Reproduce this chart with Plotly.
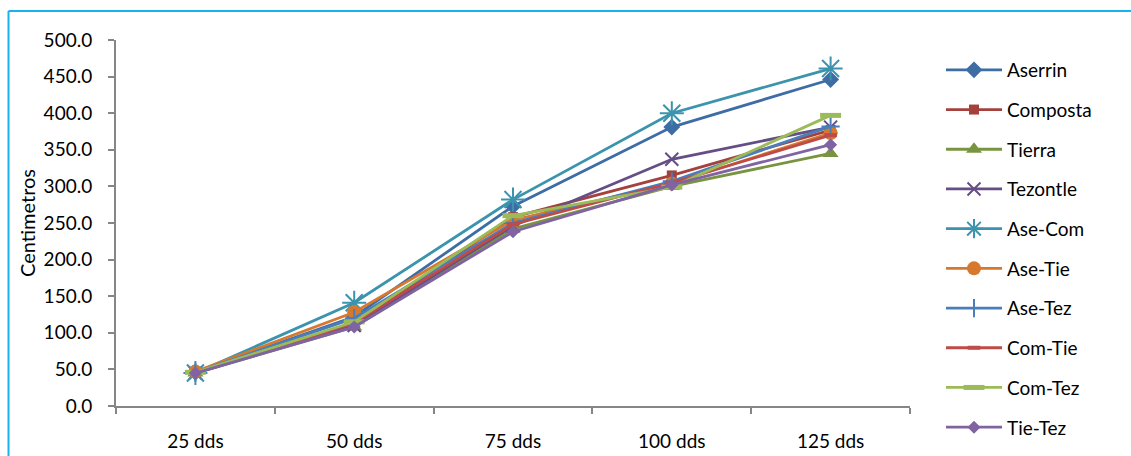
import plotly.graph_objects as go

# Sampling days after sowing
categories = ["25 dds", "50 dds", "75 dds", "100 dds", "125 dds"]

# Plant height (cm) per substrate
aserrin  = [46, 122, 273, 381, 446]
composta = [46, 112, 258, 315, 377]
tierra   = [45, 108, 242, 300, 345]
tezontle = [45, 110, 246, 337, 381]
ase_com  = [45, 141, 282, 400, 461]
ase_tie  = [47, 128, 254, 304, 373]
ase_tez  = [46, 120, 250, 307, 382]
com_tie  = [45, 113, 248, 305, 370]
com_tez  = [46, 115, 260, 299, 397]
tie_tez  = [45, 108, 238, 302, 357]

y_ticks = [0, 50, 100, 150, 200, 250, 300, 350, 400, 450, 500]
y_tick_labels = [f"{v:.1f}" for v in y_ticks]

series = [
    ("Aserrin",  aserrin,  "#3E6DA6", dict(symbol="diamond", size=13)),
    ("Composta", composta, "#A5403C", dict(symbol="square", size=10)),
    ("Tierra",   tierra,   "#789440", dict(symbol="triangle-up", size=14)),
    ("Tezontle", tezontle, "#654E86", dict(symbol="x-thin-open", size=13, line=dict(width=2, color="#654E86"))),
    ("Ase-Com",  ase_com,  "#3B93AD", dict(symbol="asterisk-open", size=20, line=dict(width=2, color="#3B93AD"))),
    ("Ase-Tie",  ase_tie,  "#D7782F", dict(symbol="circle", size=14)),
    ("Ase-Tez",  ase_tez,  "#4A7EBB", dict(symbol="cross-thin-open", size=13, line=dict(width=2, color="#4A7EBB"))),
    ("Com-Tie",  com_tie,  "#BE4B48", dict(symbol="line-ew-open", size=9, line=dict(width=4, color="#BE4B48"))),
    ("Com-Tez",  com_tez,  "#9BBB59", dict(symbol="line-ew-open", size=15, line=dict(width=5, color="#9BBB59"))),
    ("Tie-Tez",  tie_tez,  "#8064A2", dict(symbol="diamond", size=10)),
]

FONT = "Lato, 'Open Sans', sans-serif"
FS = 19
AXIS = "#868686"

fig = go.Figure()
for i, (name, vals, color, marker) in enumerate(series):
    m = dict(color=color)
    m.update(marker)
    fig.add_trace(go.Scatter(
        x=categories, y=vals, name=name, mode="lines+markers",
        line=dict(color=color, width=2.8),
        marker=m, legendgroup=f"g{i}",
    ))

# plot-area geometry (pixels)
W, H = 1131, 456
ML, MR, MT, MB = 116, 221, 40, 50
pw, ph = W - ML - MR, H - MT - MB

def px_x(x):
    return (x - ML) / pw

def px_y(y):
    return (H - MB - y) / ph

# frame around the chart
border = "#1AB2EE"
fig.add_shape(type="line", xref="paper", yref="paper",
              x0=px_x(8.5), x1=px_x(W + 5), y0=px_y(11), y1=px_y(11),
              line=dict(color=border, width=2))
fig.add_shape(type="line", xref="paper", yref="paper",
              x0=px_x(8.5), x1=px_x(8.5), y0=px_y(11), y1=px_y(H + 5),
              line=dict(color=border, width=2))

fig.update_layout(
    width=W, height=H,
    margin=dict(l=ML, r=MR, t=MT, b=MB, autoexpand=False),
    paper_bgcolor="white", plot_bgcolor="white",
    font=dict(family=FONT, size=FS, color="#000000"),
    showlegend=True,
    legend=dict(
        x=px_x(941), y=px_y(51), xanchor="left", yanchor="top",
        font=dict(family=FONT, size=FS),
        tracegroupgap=12, itemwidth=56, maxheight=1000,
        bgcolor="rgba(0,0,0,0)",
    ),
    xaxis=dict(
        type="category", range=[-0.5, 4.5], automargin=False,
        showline=True, linecolor=AXIS, linewidth=2,
        ticks="outside", tickson="boundaries", ticklen=6, tickcolor=AXIS, tickwidth=2,
        showgrid=False, zeroline=False, ticklabelstandoff=17,
        tickfont=dict(family=FONT, size=FS),
    ),
    yaxis=dict(
        range=[0, 500], tickvals=y_ticks, ticktext=y_tick_labels, automargin=False,
        showline=True, linecolor=AXIS, linewidth=2,
        ticks="outside", ticklen=6, tickcolor=AXIS, tickwidth=2,
        showgrid=False, zeroline=False, ticklabelstandoff=12,
        tickfont=dict(family=FONT, size=FS),
        title=dict(text="Centimetros", font=dict(family=FONT, size=20), standoff=3),
    ),
)

fig.write_html("out.html")
